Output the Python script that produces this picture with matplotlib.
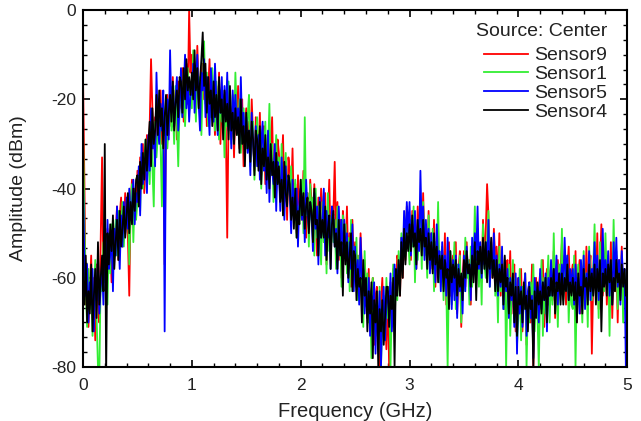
import numpy as np
import matplotlib
matplotlib.use("Agg")
import matplotlib.pyplot as plt
from matplotlib.ticker import AutoMinorLocator, FuncFormatter

plt.rcParams['font.family'] = ['Liberation Sans', 'DejaVu Sans']

f_start, f_stop = 0.0, 5.0

sensor9 = [
    -15,-38,-66,-58,-71,-63,-55,-69, -60,-74,-57,-66,-70,-52,-33,-61, -55,-63,-49,-58,-52,-61,-47,-54, -50,-44,-56,-46,-42,-53,-48,-41, -46,-51,-64,-43,-38,-47,-40,-45,
    -36,-44,-33,-39,-30,-41,-35,-28, -34,-26,-11,-22,-31,-24,-29,-20, -27,-18,-30,-23,-57,-25,-19,-28, -21,-26,-15,-24,-18,-29,-16,-22, -20,-13,-25,-17,-12,-21,0,-14,
    -10,-19,-13,-22,-8,-17,-24,-14, -12,-20,-15,-26,-18,-11,-23,-16, -21,-28,-17,-24,-14,-30,-20,-25, -19,-27,-51,-23,-18,-29,-22,-33, -21,-27,-17,-31,-24,-20,-35,-26,
    -22,-30,-25,-33,-20,-28,-36,-24, -27,-33,-23,-37,-29,-26,-39,-31, -28,-35,-30,-24,-38,-33,-41,-29, -32,-39,-35,-28,-43,-36,-47,-33, -36,-42,-31,-46,-39,-50,-37,-44,
    -40,-47,-36,-45,-51,-41,-48,-38, -43,-50,-39,-46,-55,-42,-49,-40, -45,-52,-41,-57,-47,-38,-53,-44, -46,-34,-51,-43,-56,-47,-60,-45, -49,-55,-44,-58,-50,-62,-47,-57,
    -52,-60,-55,-64,-50,-58,-67,-56, -61,-69,-58,-72,-63,-60,-75,-64, -62,-71,-80,-66,-60,-73,-68,-76, -63,-80,-61,-70,-58,-67,-62,-55, -57,-64,-51,-60,-49,-56,-44,-53,
    -48,-56,-45,-53,-47,-58,-44,-51, -46,-55,-41,-52,-49,-57,-45,-54, -50,-58,-47,-62,-53,-49,-60,-55, -54,-62,-50,-66,-57,-52,-64,-59, -55,-63,-52,-68,-58,-54,-71,-60,
    -54,-62,-52,-60,-56,-66,-53,-59, -51,-58,-49,-57,-53,-61,-47,-55, -50,-39,-46,-58,-52,-60,-49,-56, -53,-61,-50,-64,-55,-59,-67,-57, -56,-63,-54,-68,-60,-57,-72,-62,
    -60,-68,-58,-72,-63,-59,-75,-64, -61,-70,-57,-80,-65,-60,-69,-62, -59,-67,-56,-71,-62,-58,-66,-60, -57,-65,-54,-69,-60,-56,-63,-58, -52,-62,-55,-66,-58,-53,-64,-59,
    -57,-65,-54,-70,-60,-56,-68,-62, -58,-66,-53,-64,-59,-55,-77,-61, -56,-63,-50,-67,-57,-48,-64,-59, -54,-66,-57,-62,-52,-69,-58,-63, -55,-70,-56,-61,-53,-67,-58,-64,
    -61]

sensor1 = [
    -26,-48,-62,-71,-58,-67,-60,-73, -64,-56,-69,-80,-82,-59,-63,-52, -61,-55,-66,-50,-59,-48,-57,-53, -47,-55,-45,-51,-49,-43,-53,-46, -48,-42,-57,-44,-39,-52,-41,-47,
    -43,-37,-45,-32,-40,-34,-29,-38, -31,-39,-27,-35,-44,-25,-33,-28, -22,-30,-44,-24,-28,-20,-31,-26, -19,-27,-22,-30,-17,-25,-35,-21, -18,-24,-14,-26,-19,-13,-23,-17,
    -22,-9,-18,-25,-12,-20,-15,-28, -17,-7,-21,-14,-26,-18,-24,-13, -19,-27,-16,-23,-29,-18,-25,-21, -33,-20,-26,-16,-24,-30,-19,-27, -14,-23,-28,-20,-32,-25,-22,-29,
    -31,-24,-19,-35,-28,-25,-38,-30, -24,-34,-29,-40,-27,-33,-25,-36, -32,-21,-37,-30,-43,-34,-28,-39, -33,-41,-30,-46,-36,-32,-42,-38, -40,-35,-46,-42,-38,-51,-44,-48,
    -44,-38,-50,-24,-46,-41,-53,-39, -47,-42,-55,-40,-51,-44,-49,-57, -43,-52,-46,-59,-41,-54,-48,-45, -52,-47,-58,-44,-55,-50,-62,-46, -54,-48,-59,-51,-63,-47,-57,-53,
    -60,-51,-65,-55,-62,-58,-71,-54, -66,-59,-70,-63,-78,-60,-68,-73, -65,-76,-62,-80,-69,-64,-74,-60, -69,-62,-80,-66,-57,-70,-61,-65, -54,-62,-50,-58,-48,-55,-45,-51,
    -57,-47,-53,-44,-61,-49,-56,-50, -47,-58,-43,-55,-51,-60,-46,-53, -57,-49,-63,-52,-58,-43,-61,-55, -53,-65,-56,-62,-80,-58,-54,-66, -60,-52,-67,-57,-63,-55,-70,-59,
    -63,-51,-60,-56,-66,-53,-62,-58, -44,-58,-50,-62,-54,-66,-48,-57, -60,-52,-45,-62,-55,-59,-51,-64, -58,-70,-53,-63,-60,-67,-56,-80, -61,-57,-73,-64,-56,-69,-60,-75,
    -69,-58,-74,-62,-67,-59,-80,-65, -70,-61,-66,-57,-72,-63,-68,-80, -64,-56,-73,-60,-68,-62,-55,-70, -58,-66,-50,-64,-61,-71,-57,-63, -49,-65,-58,-62,-55,-70,-60,-66,
    -67,-55,-80,-61,-57,-66,-62,-70, -54,-64,-59,-71,-53,-60,-65,-58, -48,-62,-56,-69,-52,-65,-58,-63, -50,-61,-55,-73,-57,-64,-47,-60, -54,-67,-59,-62,-55,-70,-58,-65,
    -64]

sensor5 = [
    -38,-56,-64,-57,-70,-61,-66,-58, -72,-60,-65,-55,-68,-62,-57,-66, -52,-61,-47,-58,-55,-50,-63,-49, -55,-44,-51,-58,-46,-53,-43,-50, -42,-49,-40,-47,-44,-38,-48,-41,
    -43,-35,-46,-30,-39,-36,-33,-41, -28,-36,-22,-31,-27,-35,-14,-26, -30,-21,-27,-18,-72,-25,-20,-29, -9,-23,-17,-26,-20,-15,-27,-22, -13,-24,-18,-10,-22,-16,-25,-19,
    -19,-12,-23,-16,-10,-21,-27,-14, -18,-11,-24,-15,-21,-28,-13,-19, -25,-12,-20,-28,-17,-23,-15,-26, -17,-24,-14,-27,-20,-31,-18,-25, -19,-26,-22,-30,-15,-27,-23,-31,
    -24,-32,-27,-37,-23,-30,-35,-26, -35,-28,-38,-30,-25,-36,-33,-41, -27,-43,-32,-36,-39,-30,-45,-34, -36,-45,-33,-40,-47,-35,-42,-38, -41,-50,-38,-44,-47,-40,-53,-43,
    -40,-47,-42,-52,-38,-45,-49,-43, -46,-54,-41,-49,-44,-57,-42,-51, -48,-40,-55,-45,-51,-47,-58,-44, -46,-53,-49,-59,-44,-52,-47,-56, -47,-55,-50,-61,-52,-58,-48,-63,
    -53,-62,-56,-66,-51,-60,-58,-68, -62,-69,-60,-73,-64,-67,-61,-77, -65,-71,-63,-80,-68,-62,-74,-66, -63,-68,-59,-72,-66,-57,-64,-60, -57,-60,-51,-56,-45,-53,-43,-50,
    -43,-55,-48,-52,-45,-58,-47,-54, -36,-50,-44,-56,-47,-53,-49,-59, -50,-58,-52,-61,-48,-56,-54,-63, -52,-60,-55,-64,-51,-62,-58,-67, -56,-65,-55,-69,-57,-63,-60,-68,
    -55,-63,-53,-59,-57,-65,-51,-58, -50,-56,-44,-58,-52,-60,-54,-57, -52,-60,-47,-62,-54,-58,-50,-61, -55,-64,-57,-62,-53,-67,-58,-63, -58,-69,-60,-65,-62,-71,-59,-77,
    -60,-68,-62,-71,-65,-59,-73,-63, -61,-69,-64,-78,-60,-66,-62,-70, -58,-67,-61,-65,-59,-72,-60,-64, -56,-64,-58,-62,-55,-66,-59,-61, -57,-63,-51,-60,-55,-65,-58,-62,
    -58,-66,-57,-64,-60,-68,-56,-63, -55,-67,-59,-62,-54,-65,-58,-60, -52,-60,-55,-65,-57,-62,-49,-61, -56,-62,-54,-64,-57,-66,-52,-60, -51,-62,-56,-66,-54,-60,-58,-80,
    -57]

sensor4 = [
    -60,-66,-55,-70,-63,-68,-57,-72, -64,-58,-69,-52,-66,-60,-55,-63, -30,-82,-50,-57,-48,-54,-46,-58, -52,-47,-56,-45,-53,-49,-44,-51, -46,-41,-50,-43,-48,-40,-45,-38,
    -37,-44,-34,-40,-32,-38,-29,-36, -30,-25,-35,-22,-30,-27,-19,-28, -18,-26,-22,-31,-24,-19,-28,-23, -19,-25,-16,-27,-21,-18,-24,-15, -16,-23,-13,-20,-11,-18,-15,-19,
    -14,-20,-9,-18,-13,-22,-16,-11, -5,-17,-12,-23,-15,-21,-18,-26, -16,-24,-19,-27,-15,-23,-20,-29, -18,-25,-21,-29,-17,-27,-23,-30, -22,-28,-24,-32,-20,-30,-26,-35,
    -23,-31,-27,-34,-25,-29,-37,-27, -29,-36,-26,-39,-31,-35,-28,-38, -33,-40,-30,-37,-34,-42,-32,-39, -35,-43,-38,-46,-34,-41,-44,-37, -39,-47,-42,-49,-40,-51,-45,-48,
    -38,-46,-41,-49,-44,-42,-50,-43, -45,-52,-40,-48,-47,-55,-43,-51, -47,-51,-44,-56,-49,-46,-58,-48, -45,-53,-50,-58,-47,-55,-52,-64, -48,-57,-52,-60,-55,-50,-63,-54,
    -55,-65,-58,-62,-60,-70,-56,-64, -60,-72,-63,-68,-61,-78,-65,-70, -63,-80,-67,-72,-65,-75,-69,-62, -62,-71,-64,-67,-60,-80,-58,-64, -56,-64,-52,-60,-49,-57,-50,-54,
    -48,-54,-46,-53,-50,-57,-47,-52, -49,-55,-47,-53,-51,-58,-50,-56, -52,-59,-50,-57,-53,-61,-55,-58, -55,-63,-56,-60,-58,-67,-54,-61, -57,-60,-56,-64,-58,-62,-59,-65,
    -56,-60,-54,-59,-57,-62,-55,-61, -52,-65,-54,-57,-53,-59,-51,-58, -52,-61,-54,-58,-51,-60,-56,-63, -56,-63,-58,-61,-57,-66,-55,-62, -60,-68,-61,-64,-59,-70,-62,-73,
    -62,-66,-63,-70,-61,-67,-64,-72, -62,-67,-65,-80,-63,-69,-61,-66, -63,-68,-61,-65,-60,-70,-62,-64, -60,-64,-58,-68,-61,-63,-59,-66, -59,-66,-60,-63,-57,-65,-61,-64,
    -60,-65,-61,-70,-59,-64,-62,-68, -58,-62,-60,-66,-57,-63,-59,-64, -57,-66,-58,-63,-56,-72,-59,-62, -58,-64,-57,-61,-56,-66,-60,-63, -56,-61,-59,-65,-57,-62,-58,-64,
    -60]

series_names = ["Sensor9", "Sensor1", "Sensor5", "Sensor4"]
series_colors = ["#ff0000", "#33ee33", "#0000ff", "#000000"]
x_ticks = [0, 1, 2, 3, 4, 5]
y_ticks = [0, -20, -40, -60, -80]

fig = plt.figure(figsize=(6.41, 4.21), dpi=100)
ax = fig.add_axes([0.1295, 0.128, 0.849, 0.848])

for vals, name, col in zip([sensor9, sensor1, sensor5, sensor4], series_names, series_colors):
    freq = np.linspace(f_start, f_stop, len(vals))
    ax.plot(freq, vals, color=col, lw=1.3, label=name)

ax.set_xlim(0, 5)
ax.set_ylim(-80, 0)
ax.set_xticks(x_ticks)
ax.set_yticks(y_ticks)
ax.xaxis.set_minor_locator(AutoMinorLocator(5))
ax.yaxis.set_minor_locator(AutoMinorLocator(6))
ax.yaxis.set_major_formatter(FuncFormatter(lambda v, p: f"{int(round(v))}"))
ax.tick_params(which='both', direction='in', top=True, right=True, colors='black',
               labelcolor='#222222', labelsize=12.5)
ax.tick_params(axis='x', which='major', pad=8)
ax.tick_params(axis='y', which='major', pad=5)
ax.tick_params(which='major', length=5, width=1.2)
ax.tick_params(which='minor', length=3, width=1.0)
for s in ax.spines.values():
    s.set_linewidth(1.5)

ax.set_xlabel("Frequency (GHz)", fontsize=14.5, color='#222222', labelpad=6)
ax.set_ylabel("Amplitude (dBm)", fontsize=14, color='#222222', labelpad=17)

leg = ax.legend(title="Source: Center", loc='upper right', bbox_to_anchor=(0.9706, 0.975),
                frameon=False, fontsize=14, title_fontsize=14, handlelength=2.3,
                handletextpad=0.3, labelspacing=0.06, borderaxespad=0.0, borderpad=0.2,
                alignment='right')
leg._legend_box.sep = 5
for t in leg.get_texts():
    t.set_color('#222222')
leg.get_title().set_color('#222222')

fig.savefig("out.png", dpi=100)
